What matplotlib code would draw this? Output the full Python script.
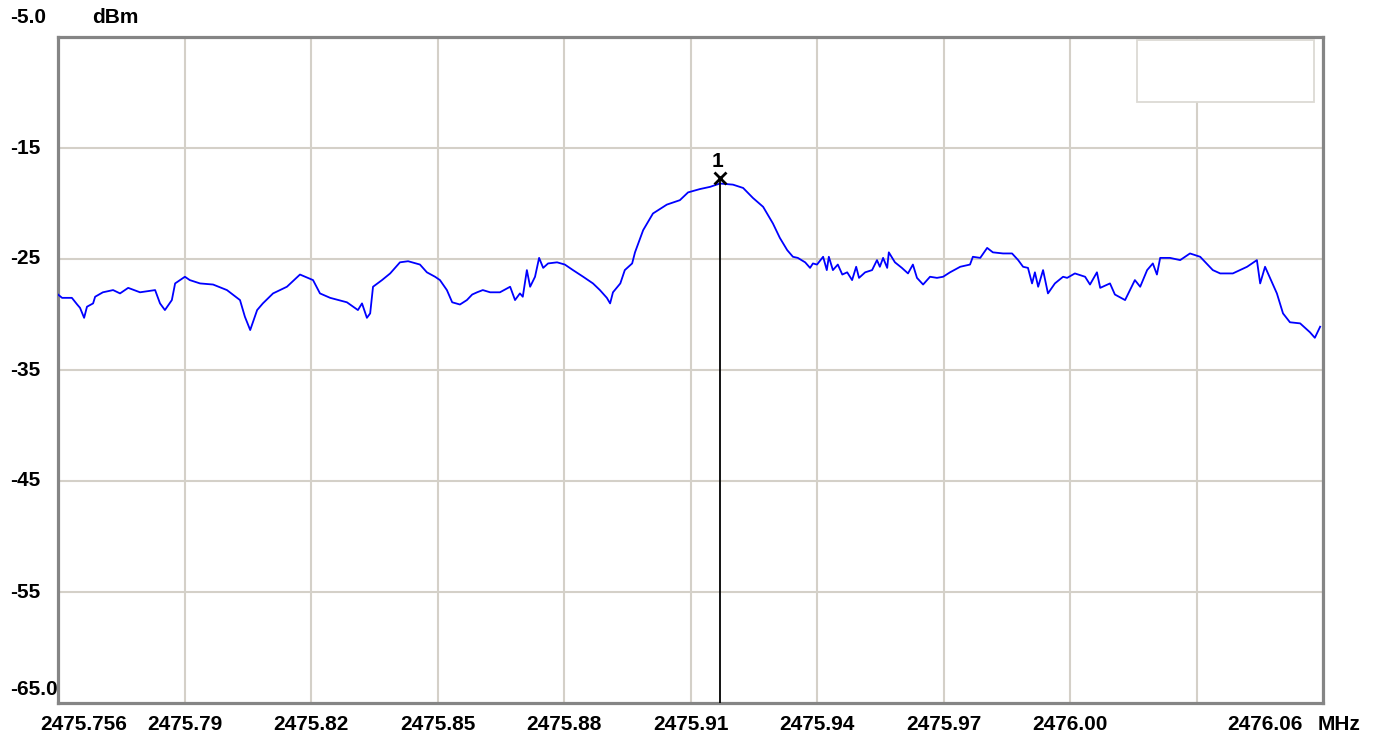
import matplotlib
matplotlib.use("Agg")
import matplotlib.pyplot as plt
import matplotlib.transforms as mtransforms
from matplotlib.patches import Rectangle

# spectrum trace (MHz, dBm)
freq = [2475.7560, 2475.7570, 2475.7594, 2475.7607, 2475.7614, 2475.7624, 2475.7631, 2475.7646,
        2475.7651, 2475.7670, 2475.7695, 2475.7712, 2475.7732, 2475.7761, 2475.7798, 2475.7810,
        2475.7822, 2475.7839, 2475.7847, 2475.7871, 2475.7883, 2475.7908, 2475.7940, 2475.7974,
        2475.8006, 2475.8018, 2475.8031, 2475.8048, 2475.8062, 2475.8087, 2475.8121, 2475.8153,
        2475.8185, 2475.8202, 2475.8227, 2475.8268, 2475.8295, 2475.8305, 2475.8317, 2475.8325,
        2475.8332, 2475.8354, 2475.8374, 2475.8398, 2475.8418, 2475.8447, 2475.8464, 2475.8484,
        2475.8496, 2475.8513, 2475.8526, 2475.8545, 2475.8562, 2475.8575, 2475.8587, 2475.8601,
        2475.8619, 2475.8643, 2475.8668, 2475.8680, 2475.8692, 2475.8699, 2475.8709, 2475.8717,
        2475.8729, 2475.8739, 2475.8749, 2475.8761, 2475.8783, 2475.8802, 2475.8822, 2475.8847,
        2475.8871, 2475.8888, 2475.8905, 2475.8913, 2475.8920, 2475.8938, 2475.8949, 2475.8967,
        2475.8974, 2475.8994, 2475.9018, 2475.9052, 2475.9084, 2475.9104, 2475.9133, 2475.9158,
        2475.9182, 2475.9214, 2475.9239, 2475.9263, 2475.9288, 2475.9312, 2475.9329, 2475.9347,
        2475.9361, 2475.9373, 2475.9391, 2475.9403, 2475.9410, 2475.9420, 2475.9435, 2475.9444,
        2475.9449, 2475.9459, 2475.9471, 2475.9482, 2475.9494, 2475.9506, 2475.9516, 2475.9523,
        2475.9538, 2475.9555, 2475.9567, 2475.9574, 2475.9582, 2475.9592, 2475.9596, 2475.9611,
        2475.9628, 2475.9643, 2475.9655, 2475.9665, 2475.9680, 2475.9697, 2475.9714, 2475.9729,
        2475.9746, 2475.9771, 2475.9795, 2475.9802, 2475.9820, 2475.9837, 2475.9851, 2475.9876,
        2475.9898, 2475.9913, 2475.9925, 2475.9937, 2475.9947, 2475.9954, 2475.9962, 2475.9974,
        2475.9986, 2476.0003, 2476.0023, 2476.0033, 2476.0052, 2476.0077, 2476.0089, 2476.0106,
        2476.0114, 2476.0138, 2476.0150, 2476.0175, 2476.0187, 2476.0199, 2476.0212, 2476.0229,
        2476.0243, 2476.0253, 2476.0261, 2476.0285, 2476.0310, 2476.0334, 2476.0359, 2476.0390,
        2476.0408, 2476.0439, 2476.0474, 2476.0498, 2476.0506, 2476.0518, 2476.0530, 2476.0547,
        2476.0562, 2476.0579, 2476.0604, 2476.0628, 2476.0640, 2476.0653]
level = [-28.2, -28.5, -28.5, -29.1, -29.4, -30.3, -29.3, -29.0,
         -28.4, -28.0, -27.8, -28.1, -27.6, -28.0, -27.8, -29.0,
         -29.6, -28.7, -27.2, -26.6, -26.9, -27.2, -27.3, -27.8,
         -28.7, -30.2, -31.4, -29.6, -29.0, -28.1, -27.5, -26.4,
         -26.9, -28.1, -28.5, -28.9, -29.6, -29.0, -30.3, -29.9,
         -27.5, -26.9, -26.3, -25.3, -25.2, -25.5, -26.2, -26.6,
         -26.9, -27.8, -28.9, -29.1, -28.7, -28.2, -28.0, -27.8,
         -28.0, -28.0, -27.5, -28.7, -28.1, -28.4, -26.0, -27.5,
         -26.6, -24.9, -25.8, -25.4, -25.3, -25.5, -26.0, -26.6,
         -27.2, -27.8, -28.5, -29.0, -28.0, -27.2, -26.0, -25.4,
         -24.4, -22.4, -20.9, -20.1, -19.7, -19.0, -18.7, -18.5,
         -18.2, -18.3, -18.6, -19.5, -20.3, -21.8, -23.1, -24.2,
         -24.8, -24.9, -25.3, -25.8, -25.4, -25.5, -24.8, -26.0,
         -24.8, -26.0, -25.5, -26.4, -26.2, -26.9, -25.7, -26.7,
         -26.2, -26.0, -25.1, -25.7, -24.9, -25.8, -24.4, -25.3,
         -25.8, -26.3, -25.5, -26.7, -27.3, -26.6, -26.7, -26.6,
         -26.2, -25.7, -25.5, -24.8, -24.9, -24.0, -24.4, -24.5,
         -24.5, -25.1, -25.7, -25.8, -27.2, -26.2, -27.5, -26.0,
         -28.1, -27.2, -26.6, -26.7, -26.3, -26.6, -27.3, -26.2,
         -27.6, -27.2, -28.2, -28.7, -27.8, -26.9, -27.5, -26.0,
         -25.4, -26.4, -24.9, -24.9, -25.1, -24.5, -24.8, -26.0,
         -26.3, -26.3, -25.7, -25.1, -27.2, -25.7, -26.7, -28.1,
         -29.9, -30.7, -30.8, -31.6, -32.1, -31.1]

marker_freq = 2475.9182
marker_level = -17.7

f_start = 2475.756
f_stop = 2476.066
ref_level = -5.0
bottom_level = -65.0
x_labels = ["2475.756", "2475.79", "2475.82", "2475.85", "2475.88", "2475.91",
            "2475.94", "2475.97", "2476.00", "", "2476.06"]
y_ticks = [-15, -25, -35, -45, -55]

plt.rcParams['font.family'] = ['Liberation Sans', 'DejaVu Sans']
fsz = 15

fig = plt.figure(figsize=(13.83, 7.42), dpi=100)
ax = fig.add_axes([58 / 1383, 1 - 703 / 742, 1265 / 1383, 666 / 742])
ax.set_xlim(f_start, f_stop)
ax.set_ylim(bottom_level, ref_level)

div = (f_stop - f_start) / 10
xt = [f_start + i * div for i in range(11)]
ax.set_xticks(xt)
ax.set_yticks(y_ticks)
ax.set_xticklabels([])
ax.set_yticklabels([])
ax.tick_params(length=0)
ax.grid(True, color='#d4d0c8', lw=1.5)
ax.set_axisbelow(True)
for s in ax.spines.values():
    s.set_color('#858585')
    s.set_linewidth(2.3)

ax.plot(freq, level, color='#0000ff', lw=1.3, zorder=3)

# marker 1
ax.plot([marker_freq, marker_freq], [marker_level, bottom_level], color='black', lw=1.3, zorder=4)
ax.plot(marker_freq, marker_level, marker='x', ms=9, mew=2, color='black', zorder=5)
ax.annotate("1", (marker_freq, marker_level), xytext=(-2, 5), textcoords='offset points',
            ha='center', va='bottom', fontsize=fsz, fontweight='bold')

# empty marker-readout box
ax.add_patch(Rectangle((0.853, 0.9024), 0.140, 0.0931, transform=ax.transAxes,
                       facecolor='white', edgecolor='#dcdad4', lw=1.3, zorder=6))

# y labels
ty = mtransforms.blended_transform_factory(fig.transFigure, ax.transData)
for v in y_ticks:
    ax.text(10 / 1383, v, str(v), transform=ty, ha='left', va='center',
            fontsize=fsz, fontweight='bold')
ax.text(10 / 1383, ref_level + 1.8, "%.1f" % ref_level, transform=ty, ha='left', va='center',
        fontsize=fsz, fontweight='bold')
ax.text(92 / 1383, ref_level + 1.8, "dBm", transform=ty, ha='left', va='center',
        fontsize=fsz, fontweight='bold')
ax.text(10 / 1383, bottom_level + 1.2, "%.1f" % bottom_level, transform=ty, ha='left', va='center',
        fontsize=fsz, fontweight='bold')

# x labels
tx = mtransforms.blended_transform_factory(ax.transData, fig.transFigure)
ylab = 1 - 725 / 742
px = (f_stop - f_start) / 1265
for i, (x, lab) in enumerate(zip(xt, x_labels)):
    if i == 0:
        ax.text(x - 18 * px, ylab, lab, transform=tx, ha='left', va='center',
                fontsize=fsz, fontweight='bold')
    elif i == len(xt) - 1:
        ax.text(x - 20 * px, ylab, lab, transform=tx, ha='right', va='center',
                fontsize=fsz, fontweight='bold')
    else:
        ax.text(x, ylab, lab, transform=tx, ha='center', va='center',
                fontsize=fsz, fontweight='bold')
fig.text(1318 / 1383, ylab, "MHz", ha='left', va='center', fontsize=fsz, fontweight='bold')

fig.savefig("out.png", dpi=100)
